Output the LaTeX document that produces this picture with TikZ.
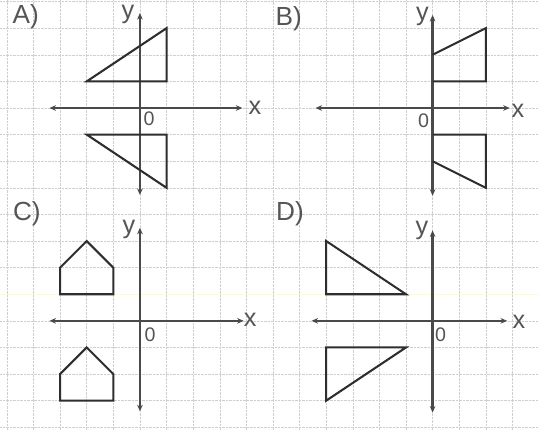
\documentclass[tikz,border=0pt]{standalone}
\usepackage{fontspec}
\setmainfont{Liberation Sans}
\usetikzlibrary{arrows.meta}
\definecolor{axisgray}{HTML}{4A4A4A}
\definecolor{shapegray}{HTML}{2E2E2E}
\definecolor{textgray}{HTML}{555555}
\begin{document}
\begin{tikzpicture}[
    gridline/.style={gray!38, line width=0.5pt, densely dotted},
    axisline/.style={<->, >={Stealth[length=7pt,width=6pt]}, line width=2.5pt, color=axisgray},
    figline/.style={line width=2.2pt, color=shapegray, line join=miter},
    panellabel/.style={text=textgray, font=\fontsize{28}{28}\selectfont, inner sep=0pt},
    axislabel/.style={text=textgray, font=\fontsize{27}{27}\selectfont, inner sep=0pt},
    zerolabel/.style={text=textgray, font=\fontsize{21}{21}\selectfont, inner sep=0pt}
  ]
  \useasboundingbox[fill=white] (-5.26,-12.1) rectangle (15,4.06);
  \clip (-5.26,-12.1) rectangle (15,4.06);
  \draw[gridline] (-5.26,-12.1) grid (15,4.06);
  \draw[yellow!22, line width=1.5pt] (-5.26,-7) -- (15,-7);

  % A)
  \draw (-4.29,3.42) node[panellabel] (labA) {A)};
  \draw[axisline] (-3.4,0) -- (3.85,0);
  \draw[axisline] (0,-3.27) -- (0,3.57);
  \draw (4.32,0) node[axislabel] (xA) {x};
  \draw (-0.45,3.5) node[axislabel] (yA) {y};
  \draw (0.34,-0.41) node[zerolabel] (oA) {0};
  \draw[figline] (-2,1) -- (1,1) -- (1,3) -- cycle;
  \draw[figline] (-2,-1) -- (1,-1) -- (1,-3) -- cycle;

  % B)
  \draw (5.59,3.35) node[panellabel] (labB) {B)};
  \draw[axisline] (6.6,0) -- (13.9,0);
  \draw[axisline] (11,-3.3) -- (11,3.5);
  \draw (14.21,-0.1) node[axislabel] (xB) {x};
  \draw (10.62,3.46) node[axislabel] (yB) {y};
  \draw (10.66,-0.49) node[zerolabel] (oB) {0};
  \draw[figline] (11,2) -- (13,3) -- (13,1) -- (11,1);
  \draw[figline] (11,-2) -- (13,-3) -- (13,-1) -- (11,-1);

  % C)
  \draw (-4.25,-3.98) node[panellabel] (labC) {C)};
  \draw[axisline] (-3.4,-8) -- (3.9,-8);
  \draw[axisline] (0,-11.4) -- (0,-4.5);
  \draw (4.14,-7.97) node[axislabel] (xC) {x};
  \draw (-0.41,-4.55) node[axislabel] (yC) {y};
  \draw (0.38,-8.53) node[zerolabel] (oC) {0};
  \draw[figline] (-3,-7) -- (-1,-7) -- (-1,-6) -- (-2,-5) -- (-3,-6) -- cycle;
  \draw[figline] (-3,-11) -- (-1,-11) -- (-1,-10) -- (-2,-9) -- (-3,-10) -- cycle;

  % D)
  \draw (5.64,-3.98) node[panellabel] (labD) {D)};
  \draw[axisline] (6.45,-8) -- (13.8,-8);
  \draw[axisline] (11,-11.45) -- (11,-4.6);
  \draw (14.25,-8.05) node[axislabel] (xD) {x};
  \draw (10.6,-4.62) node[axislabel] (yD) {y};
  \draw (11.3,-8.53) node[zerolabel] (oD) {0};
  \draw[figline] (7,-5) -- (7,-7) -- (10,-7) -- cycle;
  \draw[figline] (7,-9) -- (10,-9) -- (7,-11) -- cycle;
\end{tikzpicture}
\end{document}
